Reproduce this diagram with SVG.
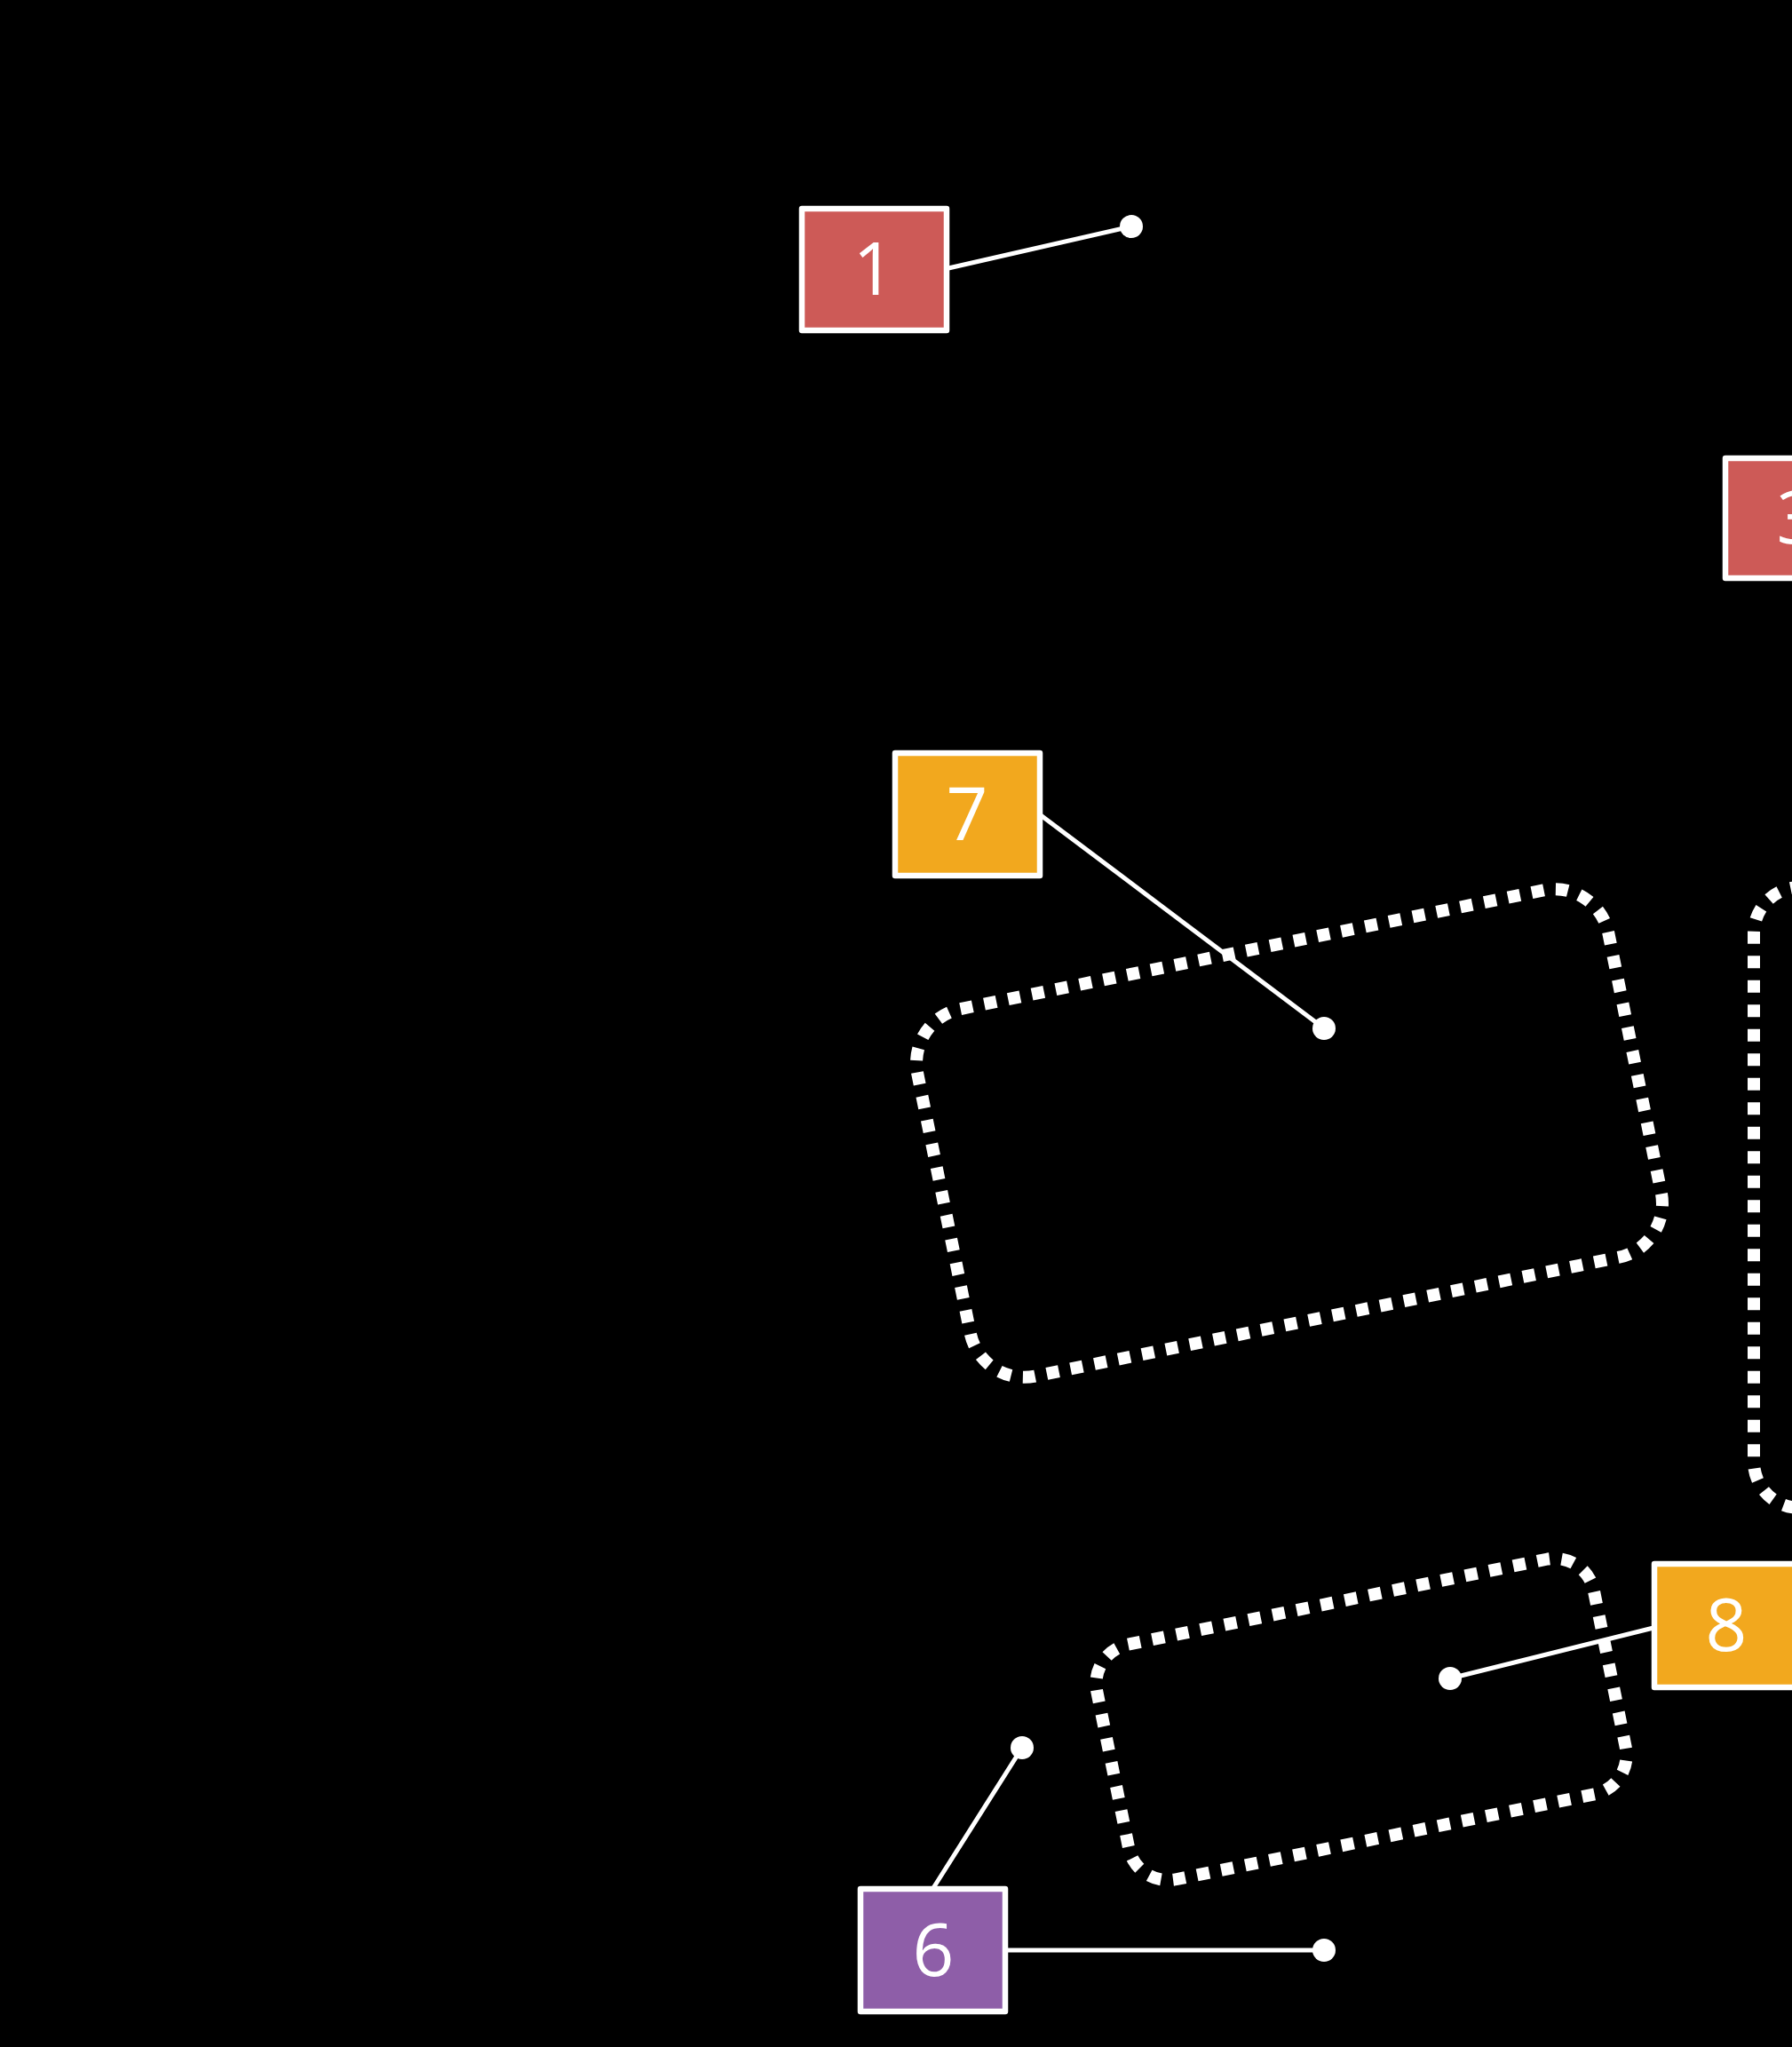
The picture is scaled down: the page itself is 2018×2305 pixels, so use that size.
<svg xmlns="http://www.w3.org/2000/svg" width="2018" height="2305" viewBox="0 0 2018 2305">
<style>
.bg{fill:#000}
.zone{fill:none;stroke:#fff;stroke-width:14;stroke-dasharray:14 13.5}
.conn{stroke:#fff;stroke-width:5;fill:none;stroke-linecap:round}
.dot{fill:#fff}
.box{stroke:#fff;stroke-width:6.5;stroke-linejoin:round}
.red{fill:#CD5A57}
.orange{fill:#F2A81E}
.purple{fill:#8E5EA8}
.lbl{font-family:"Open Sans","Noto Sans","Liberation Sans",sans-serif;font-size:82px;fill:#fff;text-anchor:middle}
</style>
<rect class="bg" x="0" y="0" width="2018" height="2305"/>
<g id="zones">
<rect class="zone" pathLength="2337.5" x="-397" y="-211" width="794" height="422" rx="62" transform="translate(1452,1276) rotate(-11.5)"/>
<rect class="zone" pathLength="1595" x="-285.5" y="-135" width="571" height="270" rx="45" transform="translate(1533,1936) rotate(-11.5)"/>
<rect class="zone" x="1975" y="999" width="300" height="699" rx="52"/>
</g>
<g id="connectors">
<line class="conn" x1="1068" y1="302" x2="1274" y2="255"/>
<line class="conn" x1="1172" y1="918" x2="1491" y2="1158"/>
<line class="conn" x1="1862" y1="1833" x2="1633" y2="1890"/>
<line class="conn" x1="1051" y1="2126" x2="1151" y2="1968"/>
<line class="conn" x1="1132" y1="2196" x2="1491" y2="2196"/>
<circle class="dot" cx="1274" cy="255" r="13"/>
<circle class="dot" cx="1491" cy="1158" r="13"/>
<circle class="dot" cx="1633" cy="1890" r="13"/>
<circle class="dot" cx="1151" cy="1968" r="13"/>
<circle class="dot" cx="1491" cy="2196" r="13"/>
</g>
<g id="node1">
<rect class="box red" x="903" y="235" width="163" height="137"/>
<text class="lbl" x="984" y="332">1</text>
</g>
<g id="node3">
<rect class="box red" x="1943" y="516" width="163" height="135"/>
<text class="lbl" x="2024" y="612">3</text>
</g>
<g id="node7">
<rect class="box orange" x="1008" y="848" width="163" height="138"/>
<text class="lbl" x="1089" y="946">7</text>
</g>
<g id="node8">
<rect class="box orange" x="1863" y="1761" width="163" height="139"/>
<text class="lbl" x="1944" y="1859">8</text>
</g>
<g id="node6">
<rect class="box purple" x="969" y="2127" width="163" height="138"/>
<text class="lbl" x="1051" y="2225">6</text>
</g>
</svg>
